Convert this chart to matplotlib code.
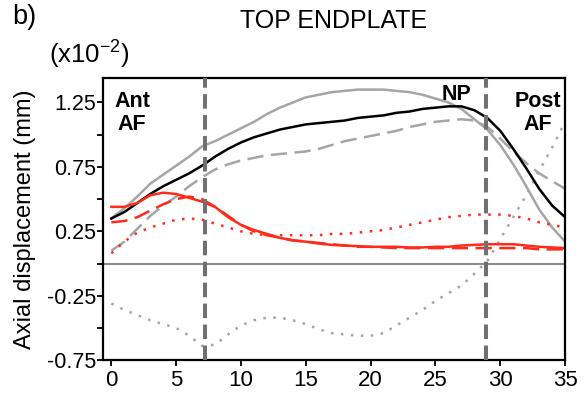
import numpy as np
import matplotlib.pyplot as plt

plt.rcParams['font.family'] = ['Liberation Sans', 'DejaVu Sans']
plt.rcParams['mathtext.fontset'] = 'custom'
plt.rcParams['mathtext.rm'] = 'Liberation Sans'

# position along endplate (mm) and axial displacement (x10^-2 mm)
pos = np.arange(0, 36)

black_solid = [0.35, 0.40, 0.47, 0.54, 0.60, 0.65, 0.70, 0.76, 0.83, 0.89, 0.94, 0.98, 1.01, 1.04, 1.06, 1.08,
               1.09, 1.10, 1.11, 1.13, 1.14, 1.15, 1.17, 1.18, 1.20, 1.21, 1.22, 1.22, 1.19, 1.13, 1.03, 0.89,
               0.74, 0.58, 0.45, 0.36]
gray_solid = [0.35, 0.43, 0.52, 0.62, 0.69, 0.76, 0.83, 0.91, 0.95, 1.00, 1.05, 1.10, 1.16, 1.21, 1.25, 1.29,
              1.31, 1.33, 1.34, 1.35, 1.35, 1.35, 1.34, 1.33, 1.31, 1.28, 1.25, 1.20, 1.12, 1.04, 0.92, 0.77,
              0.60, 0.42, 0.28, 0.17]
gray_dashed = [0.10, 0.17, 0.27, 0.37, 0.45, 0.52, 0.60, 0.67, 0.73, 0.77, 0.80, 0.82, 0.84, 0.85, 0.86, 0.87,
               0.89, 0.92, 0.95, 0.97, 0.99, 1.01, 1.03, 1.06, 1.08, 1.10, 1.11, 1.12, 1.11, 1.06, 0.97, 0.87,
               0.78, 0.70, 0.64, 0.58]
red_solid = [0.44, 0.44, 0.47, 0.53, 0.55, 0.54, 0.51, 0.48, 0.44, 0.36, 0.30, 0.26, 0.23, 0.20, 0.18, 0.17,
             0.155, 0.145, 0.14, 0.135, 0.13, 0.13, 0.13, 0.125, 0.125, 0.13, 0.13, 0.14, 0.145, 0.15, 0.15,
             0.15, 0.14, 0.13, 0.125, 0.12]
red_dashed = [0.32, 0.33, 0.36, 0.41, 0.46, 0.50, 0.52, 0.50, 0.44, 0.37, 0.30, 0.25, 0.22, 0.20, 0.18, 0.17,
              0.16, 0.15, 0.14, 0.13, 0.13, 0.125, 0.12, 0.12, 0.12, 0.12, 0.12, 0.12, 0.12, 0.12, 0.12, 0.12,
              0.12, 0.11, 0.11, 0.11]
red_dotted = [0.08, 0.17, 0.24, 0.28, 0.31, 0.34, 0.35, 0.34, 0.31, 0.28, 0.25, 0.23, 0.22, 0.22, 0.22, 0.22,
              0.22, 0.23, 0.23, 0.24, 0.25, 0.26, 0.28, 0.30, 0.32, 0.34, 0.36, 0.37, 0.38, 0.38, 0.38, 0.37,
              0.35, 0.32, 0.30, 0.28]
gray_dotted = [-0.31, -0.36, -0.40, -0.44, -0.47, -0.50, -0.56, -0.64, -0.63, -0.55, -0.48, -0.44, -0.42, -0.42,
               -0.44, -0.47, -0.51, -0.54, -0.55, -0.56, -0.56, -0.54, -0.48, -0.42, -0.36, -0.29, -0.23, -0.17,
               -0.08, 0.02, 0.19, 0.36, 0.53, 0.72, 0.90, 1.10]

zone_bounds = [7.2, 28.9]
ytick_major = [1.25, 0.75, 0.25, -0.25, -0.75]
ytick_minor = [1.0, 0.5, 0.0, -0.5]

gray = '#a5a5a5'
red = '#ff2a1a'

fig = plt.figure(figsize=(5.85, 3.98), dpi=100)
ax = fig.add_axes([0.176, 0.095, 0.79, 0.709])

ax.axhline(0, color='#8c8c8c', lw=1.5, zorder=1)
for b in zone_bounds:
    ax.axvline(b, color='#707070', lw=2.9, dashes=(3.6, 1.6), zorder=5)

ax.plot(pos, gray_dotted, color=gray, lw=1.8, ls=(0, (1, 3)))
ax.plot(pos, gray_dashed, color=gray, lw=1.8, dashes=(6.5, 3))
ax.plot(pos, gray_solid, color=gray, lw=1.8)
ax.plot(pos, black_solid, color='black', lw=1.8)
ax.plot(pos, red_dotted, color=red, lw=1.8, ls=(0, (1, 3)))
ax.plot(pos, red_dashed, color=red, lw=1.8, dashes=(6.5, 3))
ax.plot(pos, red_solid, color=red, lw=1.8)

ax.set_xlim(-0.65, 35)
ax.set_ylim(-0.73, 1.44)
ax.set_xticks(range(0, 36, 5))
ax.set_yticks(ytick_major)
ax.set_yticks(ytick_minor, minor=True)
ax.set_yticklabels([f'{v:.2f}' for v in ytick_major])
ax.tick_params(axis='x', labelsize=16, pad=3)
ax.tick_params(axis='y', labelsize=15.5, pad=1)
ax.tick_params(which='both', direction='out', width=1.3, length=4)
for s in ax.spines.values():
    s.set_linewidth(1.6)

ax.set_ylabel('Axial displacement (mm)', fontsize=17)
ax.yaxis.set_label_coords(-0.145, 0.5)

ax.text(1.6, 1.17, 'Ant\nAF', ha='center', va='center', fontsize=15.5, fontweight='bold', linespacing=1.15)
ax.text(26.6, 1.31, 'NP', ha='center', va='center', fontsize=15.5, fontweight='bold')
ax.text(32.9, 1.17, 'Post\nAF', ha='center', va='center', fontsize=15.5, fontweight='bold', linespacing=1.15)

fig.text(0.041, 0.958, 'b)', fontsize=19.5, ha='center', va='center')
fig.text(0.571, 0.946, 'TOP ENDPLATE', fontsize=18, ha='center', va='center')
fig.text(0.152, 0.862, r'$\mathregular{(x10^{-2})}$', fontsize=18.5, ha='center', va='center')

fig.savefig('out.png', dpi=100)
